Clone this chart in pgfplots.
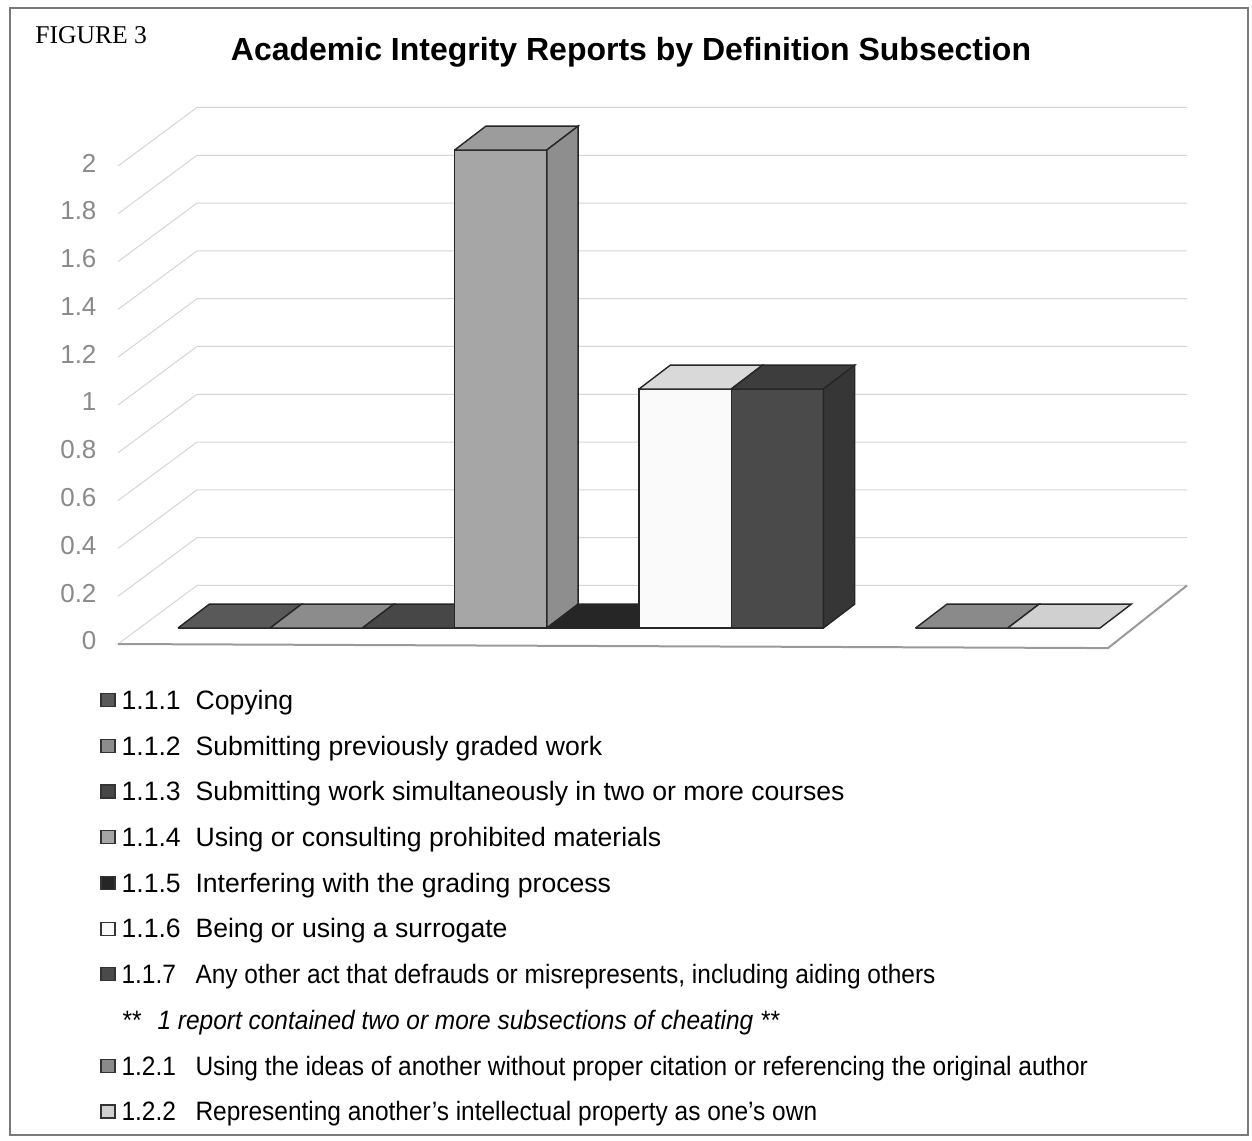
\documentclass[border=0pt]{standalone}
\usepackage{fontspec}
\setmainfont{Liberation Sans}
\newfontfamily\seriffont{Liberation Serif}
\usepackage{graphicx}
\usepackage{pgfplots}
\pgfplotsset{compat=1.18}
\definecolor{tickgray}{HTML}{8A8A8A}
\definecolor{gridcol}{HTML}{D6D6D6}
\definecolor{floorcol}{HTML}{9A9A9A}
\definecolor{framecol}{HTML}{7A7A7A}
\definecolor{cA}{HTML}{595959}
\definecolor{cB}{HTML}{8C8C8C}
\definecolor{cC}{HTML}{474747}
\definecolor{cD}{HTML}{A6A6A6}
\definecolor{cDtop}{HTML}{9C9C9C}
\definecolor{cDside}{HTML}{8E8E8E}
\definecolor{cE}{HTML}{262626}
\definecolor{cF}{HTML}{FAFAFA}
\definecolor{cFtop}{HTML}{D9D9D9}
\definecolor{cG}{HTML}{4A4A4A}
\definecolor{cGtop}{HTML}{3D3D3D}
\definecolor{cGside}{HTML}{363636}
\definecolor{cH}{HTML}{8A8A8A}
\definecolor{cI}{HTML}{D0D0D0}
\pgfplotsset{
  mybar/.style={ybar, bar width=1, bar shift=0pt, draw=black!85, line width=0.7pt,
    legend image code/.code={\draw[##1, draw=black!80, line width=0.6pt] (0pt,-1.8pt) rectangle (7pt,4.7pt);}},
  face/.style={forget plot, draw=black!85, line width=0.7pt, mark=none},
  grid3d/.style={forget plot, gridcol, line width=0.5pt, mark=none},
}
\begin{document}
\begin{tikzpicture}
\useasboundingbox (0,0) rectangle (626pt,-570pt);
\fill[white] (0,0) rectangle (626pt,-570pt);
\draw[framecol, line width=0.8pt] (5pt,-4pt) rectangle (624pt,-567.5pt);
\node[anchor=base west, font=\seriffont\fontsize{12.8}{14}\selectfont, inner sep=0pt] at (17.5pt,-21.5pt) {FIGURE 3};
\node[anchor=base, font=\bfseries\fontsize{16}{18}\selectfont, inner sep=0pt] at (315.5pt,-30pt) {Academic Integrity Reports by Definition Subsection};
\begin{axis}[
  at={(89pt,-314pt)}, anchor=origin,
  x=46.1pt, y=119.5pt,
  xmin=-0.75, xmax=11, ymin=-0.12, ymax=2.25,
  clip=false,
  axis line style={draw=none},
  xtick=\empty,
  ytick={0,0.2,0.4,0.6,0.8,1,1.2,1.4,1.6,1.8,2},
  yticklabels={0,0.2,0.4,0.6,0.8,1,1.2,1.4,1.6,1.8,2},
  major tick length=0pt,
  yticklabel style={font=\fontsize{13}{13}\selectfont, text=tickgray, anchor=east, inner sep=0pt, xshift=-6pt, yshift=-6.5pt},
  legend cell align=left,
  legend style={at={(-0.0082,-0.0528)}, anchor=north west, draw=none, fill=none,
    inner sep=0pt, row sep=6.85pt, nodes={inner sep=0pt, text height=11.2pt, text depth=4.8pt},
    font=\fontsize{13.3}{16}\selectfont,
    /tikz/every odd column/.append style={column sep=3pt}},
]
% back wall gridlines and left wall diagonals
\addplot[grid3d] coordinates {(-0.651,-0.067) (0.206,0.178) (10.944,0.178)};
\addplot[grid3d] coordinates {(-0.651,0.133) (0.206,0.378) (10.944,0.378)};
\addplot[grid3d] coordinates {(-0.651,0.333) (0.206,0.578) (10.944,0.578)};
\addplot[grid3d] coordinates {(-0.651,0.533) (0.206,0.778) (10.944,0.778)};
\addplot[grid3d] coordinates {(-0.651,0.733) (0.206,0.978) (10.944,0.978)};
\addplot[grid3d] coordinates {(-0.651,0.933) (0.206,1.178) (10.944,1.178)};
\addplot[grid3d] coordinates {(-0.651,1.133) (0.206,1.378) (10.944,1.378)};
\addplot[grid3d] coordinates {(-0.651,1.333) (0.206,1.578) (10.944,1.578)};
\addplot[grid3d] coordinates {(-0.651,1.533) (0.206,1.778) (10.944,1.778)};
\addplot[grid3d] coordinates {(-0.651,1.733) (0.206,1.978) (10.944,1.978)};
\addplot[grid3d] coordinates {(-0.651,1.933) (0.206,2.178) (10.944,2.178)};
% floor front and right edges
\addplot[forget plot, floorcol, line width=1pt, mark=none] coordinates {(-0.651,-0.067) (10.087,-0.084) (10.944,0.178)};
% 1.1.1
\addplot[mybar, fill=cA] coordinates {(0.5,0)};
\addlegendentry{\makebox[37pt][l]{1.1.1}Copying}
\addplot[face, fill=cA] coordinates {(0,0) (1,0) (1.34,0.1) (0.34,0.1) (0,0)};
% 1.1.2
\addplot[mybar, fill=cB] coordinates {(1.5,0)};
\addlegendentry{\makebox[37pt][l]{1.1.2}Submitting previously graded work}
\addplot[face, fill=cB] coordinates {(1,0) (2,0) (2.34,0.1) (1.34,0.1) (1,0)};
% 1.1.3
\addplot[mybar, fill=cC] coordinates {(2.5,0)};
\addlegendentry{\makebox[37pt][l]{1.1.3}Submitting work simultaneously in two or more courses}
\addplot[face, fill=cC] coordinates {(2,0) (3,0) (3.34,0.1) (2.34,0.1) (2,0)};
% 1.1.4
\addplot[mybar, fill=cD] coordinates {(3.5,2)};
\addlegendentry{\makebox[37pt][l]{1.1.4}Using or consulting prohibited materials}
\addplot[face, fill=cDtop] coordinates {(3,2) (4,2) (4.34,2.1) (3.34,2.1) (3,2)};
\addplot[face, fill=cDside] coordinates {(4,0) (4.34,0.1) (4.34,2.1) (4,2) (4,0)};
% 1.1.5
\addplot[mybar, fill=cE] coordinates {(4.5,0)};
\addlegendentry{\makebox[37pt][l]{1.1.5}Interfering with the grading process}
\addplot[face, fill=cE] coordinates {(4,0) (5,0) (5.34,0.1) (4.34,0.1) (4,0)};
% 1.1.6
\addplot[mybar, fill=cF] coordinates {(5.5,1)};
\addlegendentry{\makebox[37pt][l]{1.1.6}Being or using a surrogate}
\addplot[face, fill=cFtop] coordinates {(5,1) (6,1) (6.34,1.1) (5.34,1.1) (5,1)};
% 1.1.7
\addplot[mybar, fill=cG] coordinates {(6.5,1)};
\addlegendentry{\scalebox{0.92}[1]{\makebox[40.2pt][l]{1.1.7}Any other act that defrauds or misrepresents, including aiding others}}
\addplot[face, fill=cGtop] coordinates {(6,1) (7,1) (7.34,1.1) (6.34,1.1) (6,1)};
\addplot[face, fill=cGside] coordinates {(7,0) (7.34,0.1) (7.34,1.1) (7,1) (7,0)};
% note
\addlegendimage{empty legend}
\addlegendentry{\scalebox{0.92}[1]{\itshape **\hspace{9.2pt}1 report contained two or more subsections of cheating **}}
% 1.2.1
\addplot[mybar, fill=cH] coordinates {(8.5,0)};
\addlegendentry{\scalebox{0.92}[1]{\makebox[40.2pt][l]{1.2.1}Using the ideas of another without proper citation or referencing the original author}}
\addplot[face, fill=cH] coordinates {(8,0) (9,0) (9.34,0.1) (8.34,0.1) (8,0)};
% 1.2.2
\addplot[mybar, fill=cI] coordinates {(9.5,0)};
\addlegendentry{\scalebox{0.92}[1]{\makebox[40.2pt][l]{1.2.2}Representing another's intellectual property as one's own}}
\addplot[face, fill=cI] coordinates {(9,0) (10,0) (10.34,0.1) (9.34,0.1) (9,0)};
\end{axis}
\end{tikzpicture}
\end{document}
